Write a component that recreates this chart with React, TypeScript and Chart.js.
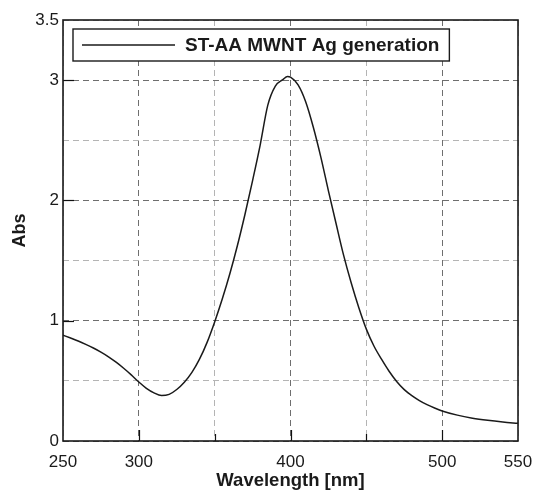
import React, { useEffect, useRef } from "react";
import { Chart, registerables } from "chart.js";

Chart.register(...registerables);

const wavelengths = [250, 255, 260, 265, 270, 275, 280, 285, 290, 295, 300, 305, 310, 315, 320, 325, 330, 335, 340, 345, 350, 355, 360, 365, 370, 375, 380, 385, 390, 395, 398, 400, 405, 410, 415, 420, 425, 430, 435, 440, 445, 450, 455, 460, 465, 470, 475, 480, 485, 490, 495, 500, 510, 520, 530, 540, 550];
const absorbance = [0.88, 0.856, 0.831, 0.803, 0.773, 0.739, 0.7, 0.655, 0.605, 0.55, 0.49, 0.438, 0.4, 0.378, 0.388, 0.428, 0.488, 0.57, 0.68, 0.82, 0.99, 1.18, 1.39, 1.625, 1.885, 2.165, 2.46, 2.79, 2.95, 3.005, 3.03, 3.025, 2.96, 2.82, 2.61, 2.36, 2.08, 1.81, 1.545, 1.315, 1.11, 0.93, 0.79, 0.68, 0.58, 0.495, 0.427, 0.377, 0.336, 0.302, 0.274, 0.25, 0.215, 0.19, 0.172, 0.158, 0.147];
const seriesLabel = "ST-AA MWNT Ag generation";
const xTickLabels = [250, 300, 400, 500, 550];
const yTickLabels = [0, 1, 2, 3, 3.5];
const xTitle = "Wavelength [nm]";
const yTitle = "Abs";

const FONT = "'Liberation Sans', Arial, sans-serif";
const TEXT = "#1a1a1a";

const framePlugin = {
  id: "frameLegend",
  afterDraw(chart: any) {
    const { ctx, chartArea } = chart;
    const { left, right, top, bottom } = chartArea;
    const xs = chart.scales.x;
    const ys = chart.scales.y;
    ctx.save();
    ctx.strokeStyle = "#111";
    ctx.lineWidth = 1.2;
    ctx.setLineDash([]);
    xs.ticks.forEach((t: any) => {
      if (t.value <= 250 || t.value >= 550) return;
      const px = Math.round(xs.getPixelForValue(t.value)) + 0.5;
      const len = t.value % 100 === 0 ? 11 : 7;
      ctx.beginPath();
      ctx.moveTo(px, bottom);
      ctx.lineTo(px, bottom - len);
      ctx.stroke();
    });
    ys.ticks.forEach((t: any) => {
      if (t.value <= 0 || t.value >= 3.5) return;
      if (!Number.isInteger(t.value)) return;
      const py = Math.round(ys.getPixelForValue(t.value)) + 0.5;
      ctx.beginPath();
      ctx.moveTo(left, py);
      ctx.lineTo(left + 11, py);
      ctx.stroke();
    });
    ctx.strokeStyle = "#1a1a1a";
    ctx.lineWidth = 1.6;
    ctx.strokeRect(left, top, right - left, bottom - top);
    const label = chart.data.datasets[0].label;
    ctx.font = `bold 19px ${FONT}`;
    const tw = ctx.measureText(label).width;
    const bx = left + 10;
    const by = top + 9;
    const lineLen = 93;
    const bw = 9 + lineLen + 10 + tw + 10;
    const bh = 32;
    ctx.fillStyle = "#fff";
    ctx.fillRect(bx, by, bw, bh);
    ctx.lineWidth = 1.4;
    ctx.strokeStyle = "#1a1a1a";
    ctx.strokeRect(bx, by, bw, bh);
    ctx.beginPath();
    ctx.lineWidth = 1.3;
    ctx.moveTo(bx + 9, by + bh / 2);
    ctx.lineTo(bx + 9 + lineLen, by + bh / 2);
    ctx.stroke();
    ctx.fillStyle = TEXT;
    ctx.textBaseline = "middle";
    ctx.textAlign = "left";
    ctx.fillText(label, bx + 9 + lineLen + 10, by + bh / 2 + 1);
    ctx.restore();
  },
};

export default function App() {
  const ref = useRef<HTMLCanvasElement>(null);
  useEffect(() => {
    document.body.style.margin = "0";
    const canvas = ref.current!;
    const chart = new Chart(canvas, {
      type: "line",
      data: {
        datasets: [
          {
            label: seriesLabel,
            data: wavelengths.map((w, i) => ({ x: w, y: absorbance[i] })),
            borderColor: "#1a1a1a",
            borderWidth: 1.5,
            pointRadius: 0,
            fill: false,
            cubicInterpolationMode: "monotone",
          },
        ],
      },
      options: {
        responsive: false,
        animation: false,
        layout: { padding: { left: 0, top: 20, right: 17, bottom: 0 } },
        plugins: { legend: { display: false }, tooltip: { enabled: false } },
        scales: {
          x: {
            type: "linear",
            min: 250,
            max: 550,
            afterFit: (s: any) => {
              s.height = 51;
              s.paddingLeft = 0;
              s.paddingRight = 0;
            },
            ticks: {
              stepSize: 50,
              autoSkip: false,
              maxRotation: 0,
              padding: 11,
              color: TEXT,
              font: { family: FONT, size: 17 },
              callback: (v: any) => (xTickLabels.includes(Number(v)) ? String(v) : ""),
            },
            grid: {
              drawTicks: false,
              lineWidth: 1,
              color: (c: any) => (c.tick && c.tick.value % 100 === 0 ? "#6e6e6e" : "#b4b4b4"),
            },
            border: { display: false, dash: [6, 4] },
            title: {
              display: true,
              text: xTitle,
              color: TEXT,
              font: { family: FONT, size: 18.5, weight: "bold" },
              padding: { top: 0, bottom: 0 },
            },
          },
          y: {
            type: "linear",
            min: 0,
            max: 3.5,
            afterFit: (s: any) => {
              s.width = 63;
            },
            ticks: {
              stepSize: 0.5,
              autoSkip: false,
              padding: 4,
              color: TEXT,
              font: { family: FONT, size: 17 },
              callback: (v: any) => (yTickLabels.includes(Number(v)) ? String(v) : ""),
            },
            grid: {
              drawTicks: false,
              lineWidth: 1,
              color: (c: any) => (c.tick && Number.isInteger(c.tick.value) ? "#6e6e6e" : "#b4b4b4"),
            },
            border: { display: false, dash: [6, 4] },
            title: {
              display: true,
              text: yTitle,
              color: TEXT,
              font: { family: FONT, size: 18, weight: "bold" },
              padding: { top: 9, bottom: 0 },
            },
          },
        },
      },
      plugins: [framePlugin],
    } as any);
    return () => chart.destroy();
  }, []);
  return <canvas ref={ref} width={535} height={492} style={{ display: "block" }} />;
}
